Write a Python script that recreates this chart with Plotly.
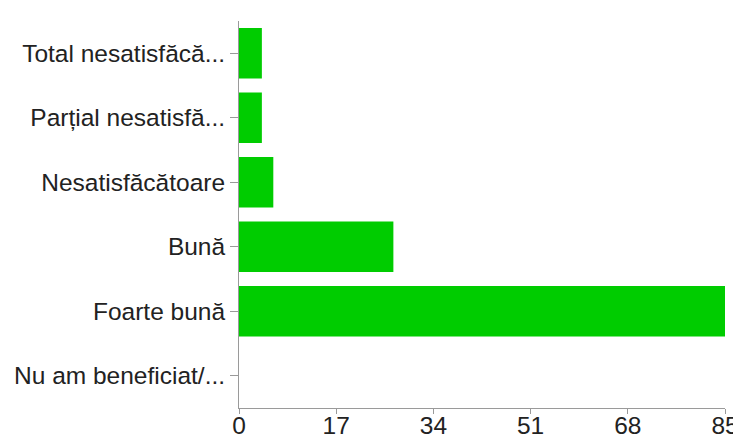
import plotly.graph_objects as go

categories = ["Total nesatisfăcă...", "Parțial nesatisfă...", "Nesatisfăcătoare",
              "Bună", "Foarte bună", "Nu am beneficiat/..."]
values = [4, 4, 6, 27, 85, 0]
x_ticks = [0, 17, 34, 51, 68, 85]

fig = go.Figure(go.Bar(
    x=values, y=categories, orientation="h",
    marker=dict(color="#00cc00", line=dict(width=0)),
))

font = dict(family="Liberation Sans, Arial, sans-serif", size=24.5, color="#222222")

fig.update_layout(
    width=741, height=436,
    margin=dict(l=231, r=24, t=13, b=36),
    paper_bgcolor="white", plot_bgcolor="white",
    bargap=0.22,
    font=font,
    showlegend=False,
)
fig.update_xaxes(
    range=[0, 85], tickvals=x_ticks, ticktext=[str(v) for v in x_ticks],
    showgrid=False, zeroline=False, automargin=False, ticklabeloverflow="allow",
    showline=True, linecolor="#9a9a9a", linewidth=1,
    ticks="outside", ticklen=5, tickcolor="#9a9a9a",
    ticklabelstandoff=-9,
    tickfont=font,
)
fig.update_yaxes(
    categoryorder="array", categoryarray=categories, autorange="reversed",
    showgrid=False, zeroline=False, automargin=False,
    showline=True, linecolor="#9a9a9a", linewidth=1,
    ticks="outside", ticklen=8, tickcolor="#9a9a9a",
    tickfont=font,
)

fig.write_html("out.html")
